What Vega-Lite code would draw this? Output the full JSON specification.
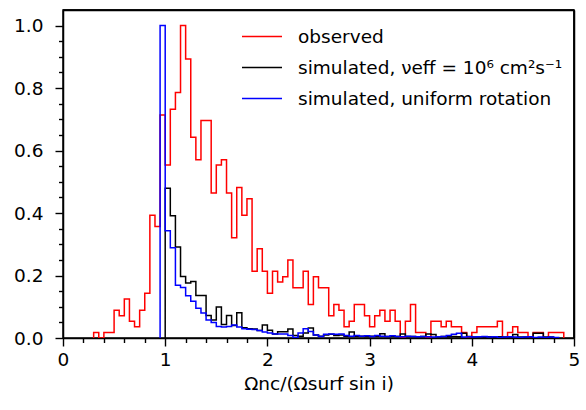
{
  "$schema": "https://vega.github.io/schema/vega-lite/v6.json",
  "width": 511,
  "height": 328,
  "autosize": {"type": "none"},
  "padding": {"left": 63, "top": 10, "right": 12, "bottom": 72},
  "config": {
    "font": "DejaVu Sans",
    "view": {"stroke": "black", "strokeWidth": 1.5},
    "axis": {
      "grid": false,
      "domainColor": "black",
      "domainWidth": 1.5,
      "tickColor": "black",
      "labelColor": "black",
      "titleColor": "black",
      "labelFontSize": 18.5,
      "titleFontSize": 18.5,
      "titleFontWeight": "normal",
      "labelOverlap": false,
      "labelFlush": false,
      "labelBound": false,
      "tickSize": 8
    }
  },
  "resolve": {"axis": {"x": "independent", "y": "independent"}},
  "layer": [
    {
      "data": {"values": [
        {"s":"obs","x":0.3,"y":0,"i":0},
        {"s":"obs","x":0.3,"y":0.018,"i":6},
        {"s":"obs","x":0.35,"y":0,"i":7},
        {"s":"obs","x":0.4,"y":0.018,"i":8},
        {"s":"obs","x":0.45,"y":0.018,"i":9},
        {"s":"obs","x":0.5,"y":0.089,"i":10},
        {"s":"obs","x":0.55,"y":0.071,"i":11},
        {"s":"obs","x":0.6,"y":0.125,"i":12},
        {"s":"obs","x":0.65,"y":0.054,"i":13},
        {"s":"obs","x":0.7,"y":0.036,"i":14},
        {"s":"obs","x":0.75,"y":0.089,"i":15},
        {"s":"obs","x":0.8,"y":0.143,"i":16},
        {"s":"obs","x":0.85,"y":0.393,"i":17},
        {"s":"obs","x":0.9,"y":0.357,"i":18},
        {"s":"obs","x":0.95,"y":0.714,"i":19},
        {"s":"obs","x":1.0,"y":0.554,"i":20},
        {"s":"obs","x":1.05,"y":0.732,"i":21},
        {"s":"obs","x":1.1,"y":0.786,"i":22},
        {"s":"obs","x":1.15,"y":1.0,"i":23},
        {"s":"obs","x":1.2,"y":0.893,"i":24},
        {"s":"obs","x":1.25,"y":0.643,"i":25},
        {"s":"obs","x":1.3,"y":0.571,"i":26},
        {"s":"obs","x":1.35,"y":0.696,"i":27},
        {"s":"obs","x":1.4,"y":0.696,"i":28},
        {"s":"obs","x":1.45,"y":0.464,"i":29},
        {"s":"obs","x":1.5,"y":0.554,"i":30},
        {"s":"obs","x":1.55,"y":0.571,"i":31},
        {"s":"obs","x":1.6,"y":0.464,"i":32},
        {"s":"obs","x":1.65,"y":0.321,"i":33},
        {"s":"obs","x":1.7,"y":0.482,"i":34},
        {"s":"obs","x":1.75,"y":0.393,"i":35},
        {"s":"obs","x":1.8,"y":0.446,"i":36},
        {"s":"obs","x":1.85,"y":0.214,"i":37},
        {"s":"obs","x":1.9,"y":0.286,"i":38},
        {"s":"obs","x":1.95,"y":0.214,"i":39},
        {"s":"obs","x":2.0,"y":0.143,"i":40},
        {"s":"obs","x":2.05,"y":0.214,"i":41},
        {"s":"obs","x":2.1,"y":0.179,"i":42},
        {"s":"obs","x":2.15,"y":0.196,"i":43},
        {"s":"obs","x":2.2,"y":0.25,"i":44},
        {"s":"obs","x":2.25,"y":0.161,"i":45},
        {"s":"obs","x":2.3,"y":0.161,"i":46},
        {"s":"obs","x":2.35,"y":0.214,"i":47},
        {"s":"obs","x":2.4,"y":0.107,"i":48},
        {"s":"obs","x":2.45,"y":0.196,"i":49},
        {"s":"obs","x":2.5,"y":0.161,"i":50},
        {"s":"obs","x":2.55,"y":0.161,"i":51},
        {"s":"obs","x":2.6,"y":0.071,"i":52},
        {"s":"obs","x":2.65,"y":0.107,"i":53},
        {"s":"obs","x":2.7,"y":0.089,"i":54},
        {"s":"obs","x":2.75,"y":0.036,"i":55},
        {"s":"obs","x":2.8,"y":0.054,"i":56},
        {"s":"obs","x":2.85,"y":0.107,"i":57},
        {"s":"obs","x":2.9,"y":0.107,"i":58},
        {"s":"obs","x":2.95,"y":0.071,"i":59},
        {"s":"obs","x":3.0,"y":0.036,"i":60},
        {"s":"obs","x":3.05,"y":0.071,"i":61},
        {"s":"obs","x":3.1,"y":0.089,"i":62},
        {"s":"obs","x":3.15,"y":0.054,"i":63},
        {"s":"obs","x":3.2,"y":0.089,"i":64},
        {"s":"obs","x":3.25,"y":0.054,"i":65},
        {"s":"obs","x":3.3,"y":0,"i":66},
        {"s":"obs","x":3.35,"y":0.054,"i":67},
        {"s":"obs","x":3.4,"y":0.107,"i":68},
        {"s":"obs","x":3.45,"y":0.018,"i":69},
        {"s":"obs","x":3.5,"y":0.018,"i":70},
        {"s":"obs","x":3.55,"y":0,"i":71},
        {"s":"obs","x":3.6,"y":0.054,"i":72},
        {"s":"obs","x":3.65,"y":0.054,"i":73},
        {"s":"obs","x":3.7,"y":0.036,"i":74},
        {"s":"obs","x":3.75,"y":0.054,"i":75},
        {"s":"obs","x":3.8,"y":0.036,"i":76},
        {"s":"obs","x":3.85,"y":0.036,"i":77},
        {"s":"obs","x":3.9,"y":0.018,"i":78},
        {"s":"obs","x":3.95,"y":0,"i":79},
        {"s":"obs","x":4.0,"y":0.018,"i":80},
        {"s":"obs","x":4.05,"y":0.036,"i":81},
        {"s":"obs","x":4.1,"y":0.036,"i":82},
        {"s":"obs","x":4.15,"y":0.036,"i":83},
        {"s":"obs","x":4.2,"y":0.036,"i":84},
        {"s":"obs","x":4.25,"y":0.054,"i":85},
        {"s":"obs","x":4.3,"y":0,"i":86},
        {"s":"obs","x":4.35,"y":0.018,"i":87},
        {"s":"obs","x":4.4,"y":0.036,"i":88},
        {"s":"obs","x":4.45,"y":0.018,"i":89},
        {"s":"obs","x":4.5,"y":0.018,"i":90},
        {"s":"obs","x":4.55,"y":0,"i":91},
        {"s":"obs","x":4.6,"y":0.018,"i":92},
        {"s":"obs","x":4.65,"y":0.018,"i":93},
        {"s":"obs","x":4.7,"y":0,"i":94},
        {"s":"obs","x":4.75,"y":0.018,"i":95},
        {"s":"obs","x":4.8,"y":0.018,"i":96},
        {"s":"obs","x":4.85,"y":0.018,"i":97},
        {"s":"obs","x":4.9,"y":0,"i":999},

        {"s":"nu","x":1.0,"y":0,"i":0},
        {"s":"nu","x":1.0,"y":0.479,"i":20},
        {"s":"nu","x":1.05,"y":0.391,"i":21},
        {"s":"nu","x":1.1,"y":0.291,"i":22},
        {"s":"nu","x":1.15,"y":0.197,"i":23},
        {"s":"nu","x":1.2,"y":0.176,"i":24},
        {"s":"nu","x":1.25,"y":0.181,"i":25},
        {"s":"nu","x":1.3,"y":0.136,"i":26},
        {"s":"nu","x":1.35,"y":0.136,"i":27},
        {"s":"nu","x":1.4,"y":0.072,"i":28},
        {"s":"nu","x":1.45,"y":0.058,"i":29},
        {"s":"nu","x":1.5,"y":0.099,"i":30},
        {"s":"nu","x":1.55,"y":0.043,"i":31},
        {"s":"nu","x":1.6,"y":0.072,"i":32},
        {"s":"nu","x":1.65,"y":0.04,"i":33},
        {"s":"nu","x":1.7,"y":0.081,"i":34},
        {"s":"nu","x":1.75,"y":0.033,"i":35},
        {"s":"nu","x":1.8,"y":0.03,"i":36},
        {"s":"nu","x":1.85,"y":0.029,"i":37},
        {"s":"nu","x":1.9,"y":0.024,"i":38},
        {"s":"nu","x":1.95,"y":0.042,"i":39},
        {"s":"nu","x":2.0,"y":0.025,"i":40},
        {"s":"nu","x":2.05,"y":0.013,"i":41},
        {"s":"nu","x":2.1,"y":0.02,"i":42},
        {"s":"nu","x":2.15,"y":0.02,"i":43},
        {"s":"nu","x":2.2,"y":0.029,"i":44},
        {"s":"nu","x":2.25,"y":0.008,"i":45},
        {"s":"nu","x":2.3,"y":0.006,"i":46},
        {"s":"nu","x":2.35,"y":0.016,"i":47},
        {"s":"nu","x":2.4,"y":0.032,"i":48},
        {"s":"nu","x":2.45,"y":0.01,"i":49},
        {"s":"nu","x":2.5,"y":0.006,"i":50},
        {"s":"nu","x":2.55,"y":0.01,"i":51},
        {"s":"nu","x":2.6,"y":0.012,"i":52},
        {"s":"nu","x":2.65,"y":0.008,"i":53},
        {"s":"nu","x":2.7,"y":0.01,"i":54},
        {"s":"nu","x":2.75,"y":0.006,"i":55},
        {"s":"nu","x":2.8,"y":0.019,"i":56},
        {"s":"nu","x":2.85,"y":0.006,"i":57},
        {"s":"nu","x":2.9,"y":0.006,"i":58},
        {"s":"nu","x":2.95,"y":0.005,"i":59},
        {"s":"nu","x":3.0,"y":0.006,"i":60},
        {"s":"nu","x":3.05,"y":0.006,"i":61},
        {"s":"nu","x":3.1,"y":0.014,"i":62},
        {"s":"nu","x":3.15,"y":0.005,"i":63},
        {"s":"nu","x":3.2,"y":0.006,"i":64},
        {"s":"nu","x":3.25,"y":0.005,"i":65},
        {"s":"nu","x":3.3,"y":0.013,"i":66},
        {"s":"nu","x":3.35,"y":0.005,"i":67},
        {"s":"nu","x":3.4,"y":0.005,"i":68},
        {"s":"nu","x":3.45,"y":0.004,"i":69},
        {"s":"nu","x":3.5,"y":0.005,"i":70},
        {"s":"nu","x":3.55,"y":0.013,"i":71},
        {"s":"nu","x":3.6,"y":0.011,"i":72},
        {"s":"nu","x":3.65,"y":0.004,"i":73},
        {"s":"nu","x":3.7,"y":0.005,"i":74},
        {"s":"nu","x":3.75,"y":0.004,"i":75},
        {"s":"nu","x":3.8,"y":0.005,"i":76},
        {"s":"nu","x":3.85,"y":0.004,"i":77},
        {"s":"nu","x":3.9,"y":0.015,"i":78},
        {"s":"nu","x":3.95,"y":0.005,"i":79},
        {"s":"nu","x":4.0,"y":0.003,"i":80},
        {"s":"nu","x":4.05,"y":0.004,"i":81},
        {"s":"nu","x":4.1,"y":0.003,"i":82},
        {"s":"nu","x":4.15,"y":0.004,"i":83},
        {"s":"nu","x":4.2,"y":0.003,"i":84},
        {"s":"nu","x":4.25,"y":0.004,"i":85},
        {"s":"nu","x":4.3,"y":0.003,"i":86},
        {"s":"nu","x":4.35,"y":0.004,"i":87},
        {"s":"nu","x":4.4,"y":0.011,"i":88},
        {"s":"nu","x":4.45,"y":0.003,"i":89},
        {"s":"nu","x":4.5,"y":0.003,"i":90},
        {"s":"nu","x":4.55,"y":0.004,"i":91},
        {"s":"nu","x":4.6,"y":0.015,"i":92},
        {"s":"nu","x":4.65,"y":0.015,"i":93},
        {"s":"nu","x":4.7,"y":0.003,"i":94},
        {"s":"nu","x":4.75,"y":0.003,"i":95},
        {"s":"nu","x":4.8,"y":0,"i":999},

        {"s":"uni","x":0.95,"y":0,"i":0},
        {"s":"uni","x":0.95,"y":1.0,"i":19},
        {"s":"uni","x":1.0,"y":0.343,"i":20},
        {"s":"uni","x":1.05,"y":0.289,"i":21},
        {"s":"uni","x":1.1,"y":0.169,"i":22},
        {"s":"uni","x":1.15,"y":0.162,"i":23},
        {"s":"uni","x":1.2,"y":0.135,"i":24},
        {"s":"uni","x":1.25,"y":0.118,"i":25},
        {"s":"uni","x":1.3,"y":0.095,"i":26},
        {"s":"uni","x":1.35,"y":0.08,"i":27},
        {"s":"uni","x":1.4,"y":0.058,"i":28},
        {"s":"uni","x":1.45,"y":0.05,"i":29},
        {"s":"uni","x":1.5,"y":0.037,"i":30},
        {"s":"uni","x":1.55,"y":0.035,"i":31},
        {"s":"uni","x":1.6,"y":0.037,"i":32},
        {"s":"uni","x":1.65,"y":0.042,"i":33},
        {"s":"uni","x":1.7,"y":0.035,"i":34},
        {"s":"uni","x":1.75,"y":0.03,"i":35},
        {"s":"uni","x":1.8,"y":0.028,"i":36},
        {"s":"uni","x":1.85,"y":0.027,"i":37},
        {"s":"uni","x":1.9,"y":0.024,"i":38},
        {"s":"uni","x":1.95,"y":0.019,"i":39},
        {"s":"uni","x":2.0,"y":0.016,"i":40},
        {"s":"uni","x":2.05,"y":0.013,"i":41},
        {"s":"uni","x":2.1,"y":0.013,"i":42},
        {"s":"uni","x":2.15,"y":0.013,"i":43},
        {"s":"uni","x":2.2,"y":0.008,"i":44},
        {"s":"uni","x":2.25,"y":0.002,"i":45},
        {"s":"uni","x":2.3,"y":0.016,"i":46},
        {"s":"uni","x":2.35,"y":0.03,"i":47},
        {"s":"uni","x":2.4,"y":0.021,"i":48},
        {"s":"uni","x":2.45,"y":0.01,"i":49},
        {"s":"uni","x":2.5,"y":0.005,"i":50},
        {"s":"uni","x":2.55,"y":0.012,"i":51},
        {"s":"uni","x":2.6,"y":0.013,"i":52},
        {"s":"uni","x":2.65,"y":0.012,"i":53},
        {"s":"uni","x":2.7,"y":0.013,"i":54},
        {"s":"uni","x":2.75,"y":0.008,"i":55},
        {"s":"uni","x":2.8,"y":0.006,"i":56},
        {"s":"uni","x":2.85,"y":0.008,"i":57},
        {"s":"uni","x":2.9,"y":0.006,"i":58},
        {"s":"uni","x":2.95,"y":0.007,"i":59},
        {"s":"uni","x":3.0,"y":0.005,"i":60},
        {"s":"uni","x":3.05,"y":0.008,"i":61},
        {"s":"uni","x":3.1,"y":0.006,"i":62},
        {"s":"uni","x":3.15,"y":0.005,"i":63},
        {"s":"uni","x":3.2,"y":0.007,"i":64},
        {"s":"uni","x":3.25,"y":0.005,"i":65},
        {"s":"uni","x":3.3,"y":0.004,"i":66},
        {"s":"uni","x":3.35,"y":0.006,"i":67},
        {"s":"uni","x":3.4,"y":0.005,"i":68},
        {"s":"uni","x":3.45,"y":0.004,"i":69},
        {"s":"uni","x":3.5,"y":0.005,"i":70},
        {"s":"uni","x":3.55,"y":0.004,"i":71},
        {"s":"uni","x":3.6,"y":0.003,"i":72},
        {"s":"uni","x":3.65,"y":0.004,"i":73},
        {"s":"uni","x":3.7,"y":0.005,"i":74},
        {"s":"uni","x":3.75,"y":0.008,"i":75},
        {"s":"uni","x":3.8,"y":0.012,"i":76},
        {"s":"uni","x":3.85,"y":0.015,"i":77},
        {"s":"uni","x":3.9,"y":0.003,"i":78},
        {"s":"uni","x":3.95,"y":0.004,"i":79},
        {"s":"uni","x":4.0,"y":0.003,"i":80},
        {"s":"uni","x":4.05,"y":0.004,"i":81},
        {"s":"uni","x":4.1,"y":0.005,"i":82},
        {"s":"uni","x":4.15,"y":0.003,"i":83},
        {"s":"uni","x":4.2,"y":0.004,"i":84},
        {"s":"uni","x":4.25,"y":0.002,"i":85},
        {"s":"uni","x":4.3,"y":0.003,"i":86},
        {"s":"uni","x":4.35,"y":0.004,"i":87},
        {"s":"uni","x":4.4,"y":0.003,"i":88},
        {"s":"uni","x":4.45,"y":0.002,"i":89},
        {"s":"uni","x":4.5,"y":0.003,"i":90},
        {"s":"uni","x":4.55,"y":0.004,"i":91},
        {"s":"uni","x":4.6,"y":0.002,"i":92},
        {"s":"uni","x":4.65,"y":0.003,"i":93},
        {"s":"uni","x":4.7,"y":0.002,"i":94},
        {"s":"uni","x":4.75,"y":0.003,"i":95},
        {"s":"uni","x":4.8,"y":0.002,"i":96},
        {"s":"uni","x":4.85,"y":0,"i":999}
      ]},
      "mark": {"type": "line", "interpolate": "step-after", "strokeWidth": 1.5, "clip": true},
      "encoding": {
        "x": {
          "field": "x", "type": "quantitative",
          "scale": {"domain": [0, 5], "nice": false, "zero": false},
          "axis": {
            "title": "Ωnc/(Ωsurf sin i)",
            "orient": "bottom",
            "values": [0, 0.2, 0.4, 0.6, 0.8, 1, 1.2, 1.4, 1.6, 1.8, 2, 2.2, 2.4, 2.6, 2.8, 3, 3.2, 3.4, 3.6, 3.8, 4, 4.2, 4.4, 4.6, 4.8, 5],
            "labelExpr": "abs(datum.value - round(datum.value)) < 0.001 ? format(datum.value, 'd') : ''",
            "tickSize": {"condition": {"test": "abs(datum.value - round(datum.value)) < 0.001", "value": 8}, "value": 4.5},
            "tickWidth": 1.4,
            "labelPadding": 4,
            "titlePadding": 6
          }
        },
        "y": {
          "field": "y", "type": "quantitative",
          "scale": {"domain": [0, 1.05], "nice": false},
          "axis": {
            "title": null,
            "orient": "left",
            "values": [0, 0.05, 0.1, 0.15, 0.2, 0.25, 0.3, 0.35, 0.4, 0.45, 0.5, 0.55, 0.6, 0.65, 0.7, 0.75, 0.8, 0.85, 0.9, 0.95, 1.0],
            "labelExpr": "abs(datum.value * 5 - round(datum.value * 5)) < 0.001 ? format(datum.value, '.1f') : ''",
            "tickSize": {"condition": {"test": "abs(datum.value * 5 - round(datum.value * 5)) < 0.001", "value": 8}, "value": 4.5},
            "tickWidth": 1.4,
            "labelPadding": 12
          }
        },
        "color": {
          "field": "s", "type": "nominal",
          "scale": {"domain": ["obs", "nu", "uni"], "range": ["#ff0000", "#000000", "#0000ff"]},
          "legend": {
            "title": null,
            "orient": "none",
            "legendX": 178,
            "legendY": 5.5,
            "padding": 0,
            "symbolType": "stroke",
            "symbolSize": 1600,
            "symbolStrokeWidth": 1.5,
            "labelFontSize": 18.5,
            "labelColor": "black",
            "labelOffset": 15,
            "labelLimit": 400,
            "rowPadding": -13,
            "labelExpr": "datum.label == 'obs' ? 'observed' : datum.label == 'nu' ? 'simulated, νeff = 10⁶ cm²s⁻¹' : 'simulated, uniform rotation'"
          }
        },
        "order": {"field": "i", "type": "quantitative"}
      }
    },
    {
      "data": {"values": [{"fx": 0, "fy": 0}, {"fx": 5, "fy": 1.05}]},
      "mark": {"type": "point", "opacity": 0},
      "encoding": {
        "x": {"field": "fx", "type": "quantitative", "axis": {"orient": "top", "title": null, "ticks": false, "labels": false, "domain": true, "domainColor": "black", "domainWidth": 1.5}},
        "y": {"field": "fy", "type": "quantitative", "axis": {"orient": "right", "title": null, "ticks": false, "labels": false, "domain": true, "domainColor": "black", "domainWidth": 1.5}}
      }
    },
    {
      "data": {"values": [{"a": 0, "b": 5, "c": 1.05, "d": 1.05}, {"a": 5, "b": 5, "c": 0, "d": 1.05}]},
      "mark": {"type": "rule", "color": "black", "strokeWidth": 1.5},
      "encoding": {
        "x": {"field": "a", "type": "quantitative", "axis": null},
        "x2": {"field": "b"},
        "y": {"field": "c", "type": "quantitative", "axis": null},
        "y2": {"field": "d"}
      }
    }
  ]
}
